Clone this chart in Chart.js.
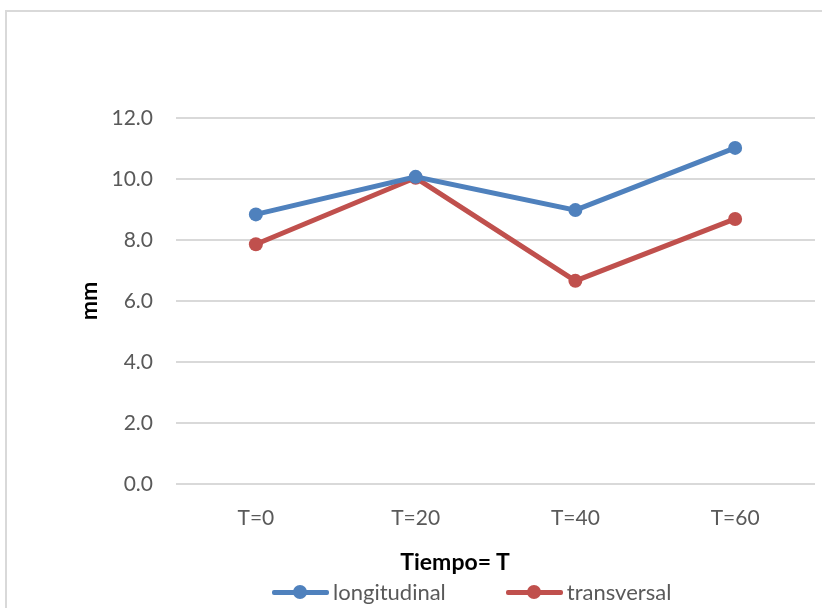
<!DOCTYPE html>
<html>
<head>
<meta charset="utf-8">
<script src="https://cdn.jsdelivr.net/npm/chart.js@4.4.0/dist/chart.umd.min.js"></script>
<style>
  html, body { margin: 0; padding: 0; background: #fff; }
  body { width: 822px; height: 608px; overflow: hidden; position: relative; font-family: Lato, "Open Sans", sans-serif; }
  #marco { position: absolute; left: 5px; top: 10px; width: 900px; height: 700px; border: 2px solid #d9d9d9; box-sizing: border-box; }
  #lienzo { position: absolute; left: 0; top: 0; }
  #tituloX { position: absolute; left: 355px; width: 200px; top: 547px; text-align: center; font-weight: bold; font-size: 23px; color: #000; }
  #leyenda { position: absolute; top: 578px; left: 272px; display: flex; font-size: 22px; color: #595959; }
  .item { display: flex; align-items: center; margin-right: 60px; }
  .icono { position: relative; width: 57px; height: 26px; margin-right: 4px; }
  .icono .linea { position: absolute; left: 0; right: 0; top: 11px; height: 5px; border-radius: 2px; }
  .icono .punto { position: absolute; left: 21px; top: 6px; width: 14px; height: 14px; border-radius: 50%; }
</style>
</head>
<body>
<div id="marco"></div>
<canvas id="lienzo" width="822" height="608"></canvas>
<div id="tituloX">Tiempo= T</div>
<div id="leyenda"></div>
<script>
let categorias = ["T=0", "T=20", "T=40", "T=60"]
let longitudinal = [8.84, 10.07, 8.98, 11.02]
let transversal = [7.86, 10.04, 6.66, 8.69]
let ticksY = [0, 2, 4, 6, 8, 10, 12]

let azul = "#4f81bd"
let rojo = "#c0504d"

let series = [
    { label: "longitudinal", data: longitudinal, color: azul },
    { label: "transversal", data: transversal, color: rojo }
]

let ctx = document.getElementById("lienzo").getContext("2d")

let grafica = new Chart(ctx, {
    type: "line",
    data: {
        labels: categorias,
        datasets: series.map(function (s) {
            return {
                label: s.label,
                data: s.data,
                borderColor: s.color,
                backgroundColor: s.color,
                borderWidth: 5,
                pointRadius: 7,
                pointHoverRadius: 7,
                pointBackgroundColor: s.color,
                pointBorderWidth: 0,
                tension: 0
            }
        })
    },
    options: {
        responsive: false,
        animation: false,
        layout: { padding: { top: 118, right: 6, left: 0, bottom: 0 } },
        plugins: { legend: { display: false }, tooltip: { enabled: false } },
        scales: {
            x: {
                offset: true,
                grid: { display: false },
                border: { display: false },
                ticks: { color: "#595959", font: { family: "Lato", size: 21 }, padding: 14 },
                afterFit: function (scale) { scale.height = 124 }
            },
            y: {
                min: 0,
                max: 12,
                afterBuildTicks: function (scale) {
                    scale.ticks = ticksY.map(function (v) { return { value: v } })
                },
                grid: { color: "#d9d9d9", lineWidth: 2, drawTicks: false },
                border: { display: false },
                ticks: {
                    color: "#595959",
                    font: { family: "Lato", size: 21 },
                    padding: 23,
                    callback: function (v) { return v.toFixed(1) }
                },
                title: {
                    display: true,
                    text: "mm",
                    color: "#000",
                    font: { family: "Lato", size: 23, weight: "bold" },
                    padding: { top: 76, bottom: 0 }
                },
                afterFit: function (scale) { scale.width = 176 }
            }
        }
    }
})

// leyenda en html
let leyenda = document.getElementById("leyenda")
series.forEach(function (s) {
    let item = document.createElement("div")
    item.className = "item"
    item.innerHTML = '<div class="icono"><div class="linea" style="background:' + s.color + '"></div>' +
        '<div class="punto" style="background:' + s.color + '"></div></div><span>' + s.label + '</span>'
    leyenda.appendChild(item)
})
</script>
</body>
</html>
